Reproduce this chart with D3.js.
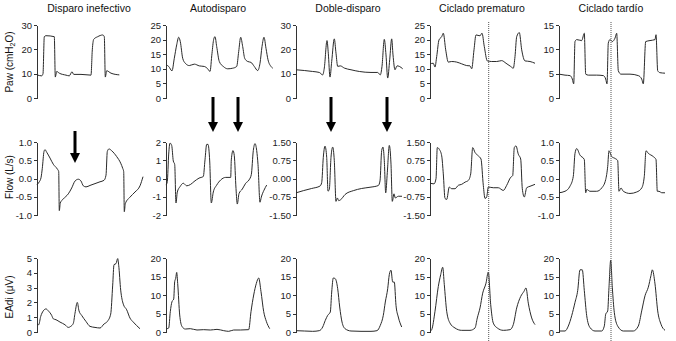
<!DOCTYPE html>
<html>
<head>
<meta charset="utf-8">
<script src="https://cdn.jsdelivr.net/npm/d3@7"></script>
<style>
  body { margin: 0; background: #fff; }
  svg { display: block; font-family: "Liberation Sans", Arial, Helvetica, sans-serif; }
  .axis path, .axis line { stroke: #333; stroke-width: 1; shape-rendering: crispEdges; }
  .axis text { font-size: 9.5px; fill: #222; }
  .trace { fill: none; stroke: #2a2a2a; stroke-width: 1; stroke-linejoin: round; }
</style>
</head>
<body>
<div id="chart"></div>
<script>
// column titles
const titles = ["Disparo inefectivo", "Autodisparo", "Doble-disparo", "Ciclado prematuro", "Ciclado tardío"];

// tick labels per panel
const pawTicks = [[0, 10, 20, 30], [0, 5, 10, 15, 20, 25], [0, 10, 20, 30], [0, 5, 10, 15, 20, 25], [0, 5, 10, 15]];
const flowTicks = [[-1, -0.5, 0, 0.5, 1], [-2, -1, 0, 1, 2], [-1.5, -0.75, 0, 0.75, 1.5], [-1.5, -0.75, 0, 0.75, 1.5], [-1, -0.5, 0, 0.5, 1]];
const flowFormats = [".1f", "d", ".2f", ".2f", ".1f"];
const eadiTicks = [[0, 1, 2, 3, 4, 5], [0, 5, 10, 15, 20], [0, 5, 10, 15, 20], [0, 5, 10, 15, 20], [0, 5, 10, 15, 20]];

// traces: [time (s), value]
const pawIneff = [[0,9.5],[0.47,9.1],[0.6,10],[0.73,25.2],[0.9,25.6],[1.73,25.2],[1.83,8.6],[1.97,10.9],[2.23,10.2],[2.9,9.4],[3.23,9.1],[3.5,10.8],[3.67,9.7],[4.4,9.7],[5.4,9.4],[5.53,19.8],[5.67,24.1],[6.07,25.2],[6.57,25.9],[6.73,25.2],[6.83,8.6],[6.97,11.2],[7.4,10.2],[8.23,9.5]];
const flowIneff = [[0,-0.17],[0.23,-0.09],[0.4,0.02],[0.53,0.28],[0.7,0.74],[0.8,0.79],[0.97,0.72],[1.3,0.56],[1.63,0.39],[2.03,0.26],[2.17,0.19],[2.23,-0.88],[2.33,-0.67],[2.63,-0.56],[3.13,-0.42],[3.47,-0.26],[3.8,-0.07],[4.13,-0.02],[4.4,-0.07],[4.63,-0.2],[4.9,-0.23],[5.3,-0.19],[5.8,-0.14],[6.3,-0.09],[6.7,-0.05],[6.9,0.09],[7.03,0.74],[7.2,0.81],[7.47,0.76],[7.97,0.6],[8.37,0.42],[8.57,0.28],[8.67,0.19],[8.73,-0.91],[8.83,-0.69],[9.3,-0.51],[9.8,-0.37],[10.3,-0.2],[10.6,0.05]];
const eadiIneff = [[0,0.54],[0.17,0.49],[0.37,1.05],[0.63,1.43],[0.9,1.56],[1.13,1.43],[1.47,1.12],[1.63,0.89],[1.9,0.83],[2.3,0.67],[2.8,0.49],[3.13,0.31],[3.37,0.38],[3.63,0.58],[3.8,1.27],[4.03,2.0],[4.2,1.43],[4.47,1.12],[4.9,0.71],[5.3,0.38],[5.8,0.31],[6.3,0.27],[6.7,0.54],[7.03,0.71],[7.37,1.21],[7.57,3.17],[7.7,4.55],[7.9,4.62],[8.07,4.96],[8.17,4.51],[8.37,2.83],[8.63,1.88],[8.97,1.5],[9.3,0.94],[9.63,0.67],[10.3,0.22]];

const pawAuto = [[0,11.4],[0.27,10.8],[0.6,9.3],[0.83,13.6],[1.07,18.2],[1.27,20.8],[1.43,19.3],[1.67,13.6],[1.93,11.9],[2.33,11.1],[2.83,11.6],[3.33,11.0],[3.83,10.8],[4.17,10.0],[4.4,9.1],[4.6,15.3],[4.77,20.1],[4.9,21.0],[5.07,17.6],[5.33,12.5],[5.73,10.8],[6.17,10.0],[6.67,10.2],[7.07,10.8],[7.27,15.9],[7.47,20.8],[7.67,17.6],[7.87,13.6],[8.17,12.5],[8.5,12.2],[8.83,10.8],[9.17,9.4],[9.4,11.9],[9.6,17.6],[9.8,20.8],[10.0,17.0],[10.2,13.1],[10.5,10.8],[10.67,10.2]];
const flowAuto = [[0,-0.36],[0.13,-0.17],[0.27,1.34],[0.4,1.94],[0.57,1.81],[0.73,0.96],[0.87,0.77],[1.0,-1.34],[1.13,-0.74],[1.4,-0.45],[1.73,-0.26],[2.07,-0.4],[2.47,-0.32],[2.8,-0.17],[3.3,0.02],[3.73,0.11],[3.9,1.02],[4.07,1.87],[4.2,1.87],[4.37,0.96],[4.53,-1.34],[4.73,-0.74],[5.07,-0.36],[5.47,-0.08],[5.97,0.06],[6.47,0.06],[6.53,1.02],[6.7,1.53],[6.83,1.25],[7.0,-0.55],[7.13,-1.4],[7.3,-0.83],[7.63,-0.58],[7.97,-0.26],[8.3,-0.08],[8.53,0.21],[8.73,1.53],[8.9,1.91],[9.07,1.53],[9.2,0.77],[9.4,-1.3],[9.53,-1.02],[9.8,-0.64],[10.07,-0.36]];
const eadiAuto = [[0.1,0.9],[0.27,1.07],[0.43,5.5],[0.6,8.2],[0.77,8.9],[0.87,13.6],[0.97,14.5],[1.07,16.1],[1.17,13.1],[1.37,4.6],[1.6,1.5],[1.93,0.8],[2.43,0.9],[3.1,0.54],[3.77,0.63],[4.43,0.54],[5.1,0.71],[5.77,0.36],[6.27,0.18],[6.77,0.54],[7.43,0.54],[8.27,0.63],[8.5,5.5],[8.77,10.0],[9.03,13.1],[9.27,14.6],[9.5,10.9],[9.77,5.5],[10.03,2.9],[10.37,0.9]];

const pawDoble = [[0,11.6],[0.83,11.3],[1.67,10.9],[2.33,10.5],[2.67,9.5],[2.83,12.3],[3.1,23.6],[3.23,18.4],[3.4,8.6],[3.57,15.0],[3.83,24.3],[4.0,18.4],[4.17,13.0],[4.43,13.2],[4.83,12.3],[5.5,11.6],[6.33,10.9],[7.5,10.5],[8.17,10.5],[8.43,9.5],[8.6,13.0],[8.83,24.1],[9.0,17.7],[9.17,8.2],[9.37,15.7],[9.57,24.3],[9.7,17.7],[9.9,11.6],[10.1,13.2],[10.33,13.0],[10.67,12.0]];
const flowDoble = [[0,-0.59],[0.73,-0.5],[1.57,-0.41],[2.4,-0.31],[2.57,-0.17],[2.73,0.87],[2.9,1.33],[3.07,0.87],[3.2,-0.52],[3.33,-0.45],[3.5,0.87],[3.67,1.29],[3.83,0.73],[4.0,-0.94],[4.13,-0.8],[4.27,-0.91],[4.47,-0.87],[4.9,-0.66],[5.73,-0.5],[6.57,-0.41],[7.4,-0.36],[8.23,-0.29],[8.4,-0.1],[8.57,1.15],[8.7,1.29],[8.83,0.73],[8.97,-0.59],[9.13,0.24],[9.33,1.36],[9.5,0.59],[9.63,-0.94],[9.8,-0.63],[9.93,-0.8],[10.23,-0.73],[10.6,-0.73]];
const eadiDoble = [[0,0.36],[0.83,0.27],[1.67,0.18],[2.33,0.36],[2.67,1.35],[2.93,3.15],[3.17,4.5],[3.43,5.4],[3.57,10.8],[3.73,14.6],[3.93,14.4],[4.17,11.7],[4.37,6.76],[4.6,2.7],[4.9,0.9],[5.5,0.27],[6.5,0.18],[7.5,0.18],[8.1,0.36],[8.43,1.8],[8.73,4.5],[8.93,8.1],[9.17,11.7],[9.33,15.5],[9.5,16.7],[9.67,13.5],[9.83,13.5],[10.0,7.2],[10.23,4.05],[10.57,1.35]];

const pawPrem = [[0,11.7],[0.33,11.9],[0.5,10.6],[0.67,14.2],[0.9,19.9],[1.17,21.0],[1.33,22.2],[1.57,16.5],[1.83,12.3],[2.17,12.5],[2.67,12.3],[3.17,11.7],[3.67,11.1],[4.0,11.0],[4.17,10.0],[4.4,16.5],[4.6,21.6],[5.0,21.3],[5.2,22.2],[5.43,17.6],[5.73,12.7],[6.17,12.5],[6.67,12.5],[7.17,12.8],[7.6,11.9],[8.07,10.8],[8.33,10.2],[8.5,14.2],[8.67,21.0],[8.93,22.4],[9.17,16.5],[9.5,12.7],[10.0,12.5],[10.5,11.9]];
const flowPrem = [[0,-0.19],[0.4,-0.22],[0.6,-0.01],[0.73,1.27],[0.93,1.2],[1.17,0.93],[1.33,0.19],[1.5,-0.82],[1.67,-0.86],[1.93,-0.35],[2.17,-0.42],[2.5,-0.42],[2.83,-0.28],[3.17,-0.24],[3.5,-0.15],[3.83,-0.08],[4.07,0.19],[4.27,1.27],[4.5,1.07],[4.83,0.93],[5.1,0.8],[5.33,-0.28],[5.5,-0.82],[5.67,-0.76],[5.83,-0.35],[6.33,-0.38],[6.83,-0.38],[7.33,-0.49],[7.67,-0.28],[8.07,0.05],[8.27,0.12],[8.43,1.27],[8.6,1.34],[8.83,1.0],[9.07,0.8],[9.23,-0.42],[9.43,-0.76],[9.67,-0.38],[10.0,-0.32],[10.5,-0.24]];
const eadiPrem = [[0,0.18],[0.17,0.63],[0.5,5.6],[0.83,12.3],[1.07,15.5],[1.27,17.5],[1.43,12.8],[1.67,5.6],[2.0,2.4],[2.5,1.08],[3.17,0.45],[4.0,0.45],[4.5,1.08],[4.73,3.8],[5.0,6.5],[5.27,10.5],[5.6,13.2],[5.83,16.2],[6.07,7.4],[6.33,2.4],[6.73,1.08],[7.33,0.45],[8.0,0.63],[8.33,2.0],[8.67,6.5],[9.07,9.6],[9.4,11.0],[9.6,11.9],[9.83,7.8],[10.17,3.8],[10.5,2.0]];

const pawTard = [[0,4.9],[0.6,4.7],[1.1,4.6],[1.33,3.9],[1.47,2.9],[1.6,11.6],[1.77,12.0],[2.27,11.8],[2.53,13.3],[2.67,4.9],[2.93,4.7],[3.77,4.7],[4.43,4.6],[4.67,3.9],[4.8,2.9],[4.93,11.3],[5.1,12.0],[5.33,11.6],[5.6,12.3],[5.77,13.3],[5.93,5.6],[6.2,4.9],[7.1,4.9],[7.93,4.6],[8.27,3.9],[8.43,2.9],[8.67,11.6],[9.1,11.8],[9.6,12.0],[9.7,13.0],[9.87,5.6],[10.1,5.2],[10.6,5.1]];
const flowTard = [[0,-0.39],[0.6,-0.35],[1.1,-0.21],[1.43,0.06],[1.6,0.69],[1.77,0.82],[2.1,0.64],[2.53,0.52],[2.67,-0.39],[2.77,-0.3],[3.1,-0.35],[3.77,-0.35],[4.27,-0.26],[4.67,-0.03],[4.87,0.33],[5.0,0.76],[5.27,0.6],[5.6,0.55],[5.87,0.49],[6.0,-0.35],[6.2,-0.26],[6.43,-0.35],[7.1,-0.41],[7.77,-0.37],[8.27,-0.26],[8.53,0.06],[8.7,0.76],[8.93,0.69],[9.43,0.6],[9.7,0.52],[9.83,-0.35],[10.0,-0.35],[10.27,-0.39],[10.6,-0.39]];
const eadiTard = [[0,0.27],[0.6,0.27],[0.93,1.6],[1.27,4.4],[1.6,8.0],[1.87,11.2],[2.1,16.8],[2.33,16.8],[2.53,11.2],[2.77,4.4],[3.1,1.2],[3.6,0.27],[4.27,0.27],[4.53,1.6],[4.67,4.8],[4.87,5.7],[5.0,12.1],[5.17,19.4],[5.33,12.1],[5.53,5.3],[5.87,1.6],[6.43,0.27],[7.43,0.27],[7.93,1.6],[8.27,5.7],[8.6,9.8],[8.93,12.1],[9.2,15.3],[9.33,16.8],[9.6,13.0],[9.87,5.7],[10.2,2.1],[10.6,0.45]];

// arrows (column index, time) and vertical reference lines (column index, time)
const arrows = [[0, 3.8], [1, 4.7], [1, 7.2], [2, 3.5], [2, 9.1]];
const cursors = [[3, 5.87], [4, 5.2]];

const width = 676, height = 341;
const colX0 = [37, 166, 296, 430, 559];
const pxPerSec = 10;

const columns = titles.map((title, i) => ({
    title: title,
    x: d3.scaleLinear().domain([0, 10]).range([colX0[i], colX0[i] + 10 * pxPerSec])
}));
const traces = [
    [pawIneff, flowIneff, eadiIneff],
    [pawAuto, flowAuto, eadiAuto],
    [pawDoble, flowDoble, eadiDoble],
    [pawPrem, flowPrem, eadiPrem],
    [pawTard, flowTard, eadiTard]
];

const rows = [
    {ticks: pawTicks, fmt: () => "d", range: [98, 25]},
    {ticks: flowTicks, fmt: i => flowFormats[i], range: [215, 142]},
    {ticks: eadiTicks, fmt: () => "d", range: [332, 258]}
];

const svg = d3.select("#chart").append("svg")
    .attr("width", width)
    .attr("height", height);

columns.forEach((col, ci) => {
    svg.append("text")
        .attr("x", col.x(5.2))
        .attr("y", 12)
        .attr("text-anchor", "middle")
        .attr("font-size", "10.5px")
        .attr("fill", "#111")
        .text(col.title);

    rows.forEach((row, ri) => {
        let ticks = row.ticks[ci];
        let y = d3.scaleLinear()
            .domain(d3.extent(ticks))
            .range(row.range);
        let f = d3.format(row.fmt(ci));

        let yAxis = d3.axisLeft(y)
            .tickValues(ticks)
            .tickSize(3)
            .tickSizeOuter(0)
            .tickPadding(2)
            .tickFormat(d => f(d).replace("\u2212", "-"));

        svg.append("g")
            .attr("class", "axis")
            .attr("transform", `translate(${col.x(0)},0)`)
            .call(yAxis);

        let line = d3.line()
            .curve(d3.curveMonotoneX)
            .x(d => col.x(d[0]))
            .y(d => y(d[1]));

        svg.append("path")
            .datum(traces[ci][ri])
            .attr("class", "trace")
            .attr("d", line);
    });
});

// dotted reference lines
cursors.forEach(([ci, t]) => {
    let x = columns[ci].x(t);
    svg.append("line")
        .attr("x1", x).attr("x2", x)
        .attr("y1", 22).attr("y2", height)
        .attr("stroke", "#555")
        .attr("stroke-width", 1)
        .attr("stroke-dasharray", "1,1");
});

// arrows
arrows.forEach(([ci, t]) => {
    let x = columns[ci].x(t);
    let top = ci == 0 ? 131 : 97;
    let tip = ci == 0 ? 163 : 132;
    let head = 10;
    svg.append("line")
        .attr("x1", x).attr("x2", x)
        .attr("y1", top).attr("y2", tip - head + 1)
        .attr("stroke", "#000")
        .attr("stroke-width", 3);
    svg.append("path")
        .attr("d", `M${x - 5},${tip - head}L${x + 5},${tip - head}L${x},${tip}Z`)
        .attr("fill", "#000");
});

// y-axis titles
const yTitles = [
    {y: 62, parts: [["Paw (cmH", false], ["2", true], ["O)", false]]},
    {y: 177, parts: [["Flow (L/s)", false]]},
    {y: 297, parts: [["EAdi (\u03bcV)", false]]}
];
yTitles.forEach(tt => {
    let txt = svg.append("text")
        .attr("transform", `translate(13,${tt.y}) rotate(-90)`)
        .attr("text-anchor", "middle")
        .attr("font-size", "10px")
        .attr("fill", "#111");
    tt.parts.forEach(([s, sub]) => {
        let ts = txt.append("tspan").text(s);
        if (sub) ts.attr("font-size", "7px").attr("dy", 2);
        else if (s == "O)") ts.attr("dy", -2);
    });
});
</script>
</body>
</html>
